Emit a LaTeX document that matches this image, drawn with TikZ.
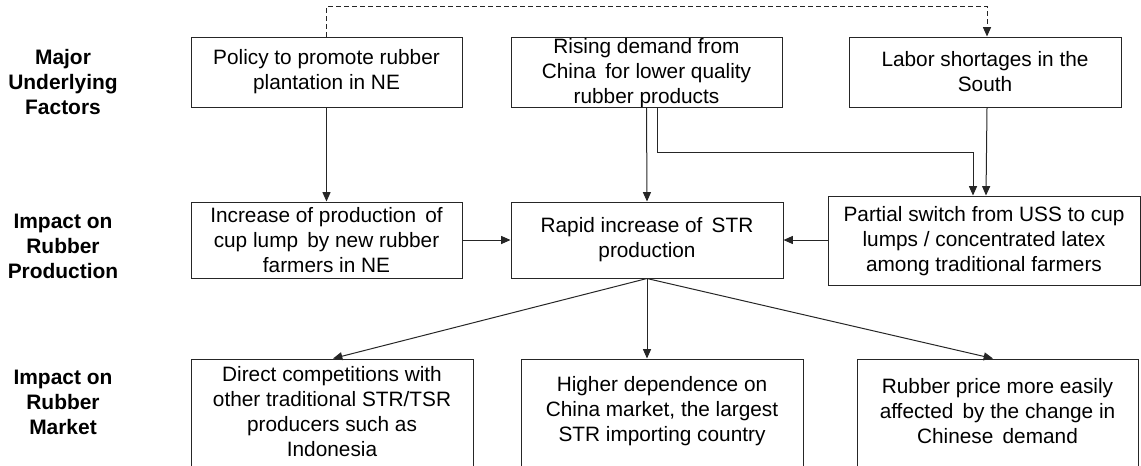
\documentclass[tikz,border=0pt]{standalone}
\usepackage{fontspec}
\setmainfont{Liberation Sans}
\usetikzlibrary{arrows.meta}
\begin{document}
\begin{tikzpicture}[x=0.75pt,y=-0.75pt,
  box/.style={draw=black!85, line width=0.75pt, rectangle, inner sep=0pt},
  txt/.style={align=center, font=\fontsize{15.6}{18.75}\selectfont, text=black, inner sep=0pt},
  lbl/.style={align=center, font=\fontsize{15.7}{18.75}\selectfont\bfseries, text=black, inner sep=0pt},
  arr/.style={draw=black!85, line width=0.75pt, -{Triangle[length=7pt,width=6pt]}},
]
\useasboundingbox (0,0) rectangle (1141,465);
\clip (0,0) rectangle (1141,465);

% row labels
\node[lbl] (l1) at (63,82) {Major\\Underlying\\Factors};
\node[lbl] (l2) at (63,246) {Impact on\\Rubber\\Production};
\node[lbl] (l3) at (63,402) {Impact on\\Rubber\\Market};

% top row
\node[box, minimum width=203.25pt, minimum height=52.5pt] (p) at (326.5,72) {};
\node[txt] (pt) at (p.center) {Policy to promote rubber\\plantation in NE};
\node[box, minimum width=203.25pt, minimum height=52.5pt] (c) at (646.5,72) {};
\node[txt] (ct) at (646.5,73) {Rising demand from\\China\, for lower quality\\rubber products};
\node[box, minimum width=204pt, minimum height=52.5pt] (s) at (985,72) {};
\node[txt] (st) at (s.center) {Labor shortages in the\\South};

% middle row
\node[box, minimum width=203.25pt, minimum height=57pt] (i) at (326.5,240) {};
\node[txt] (it) at (i.center) {Increase of production\, of\\cup lump\, by new rubber\\farmers in NE};
\node[box, minimum width=204pt, minimum height=57pt] (r) at (647,240) {};
\node[txt] (rt) at (r.center) {Rapid increase of\, STR\\production};
\node[box, minimum width=234pt, minimum height=66.75pt] (w) at (984,240.5) {};
\node[txt] (wt) at (984,241) {Partial switch from USS to cup\\lumps / concentrated latex\\among traditional farmers};

% bottom row
\node[box, minimum width=211.5pt, minimum height=80.25pt] (d) at (332,412.5) {};
\node[txt] (dt) at (332,411.5) {Direct competitions with\\other traditional STR/TSR\\producers such as\\Indonesia};
\node[box, minimum width=211.5pt, minimum height=80.25pt] (h) at (662,412.5) {};
\node[txt] (ht) at (662,411) {Higher dependence on\\China market, the largest\\STR importing country};
\node[box, minimum width=210.75pt, minimum height=80.25pt] (m) at (997.5,412.5) {};
\node[txt] (mt) at (997.5,411) {Rubber price more easily\\affected\, by the change in\\Chinese\, demand};

% connectors
\coordinate (dtop) at (987,6);
\draw[arr, dash pattern=on 3.75pt off 2.25pt] (p.north) |- (dtop) -- ([xshift=1.5pt]s.north);
\draw[arr] (p.south) -- (i.north);
\draw[arr] (c.south) -- (r.north);
\coordinate (bend) at (973,152);
\draw[arr] ([xshift=8.25pt]c.south) |- (bend) -- ([xshift=-8.25pt]w.north);
\draw[arr] ([xshift=1.5pt]s.south) -- ([xshift=1.5pt]w.north);
\draw[arr] (i.east) -- (r.west);
\draw[arr] (w.west |- r.east) -- (r.east);
\draw[arr] (r.south) -- ([xshift=0.75pt]d.north);
\draw[arr] (r.south) -- (r.south |- h.north);
\draw[arr] (r.south) -- ([xshift=-3.4pt]m.north);
\end{tikzpicture}
\end{document}
